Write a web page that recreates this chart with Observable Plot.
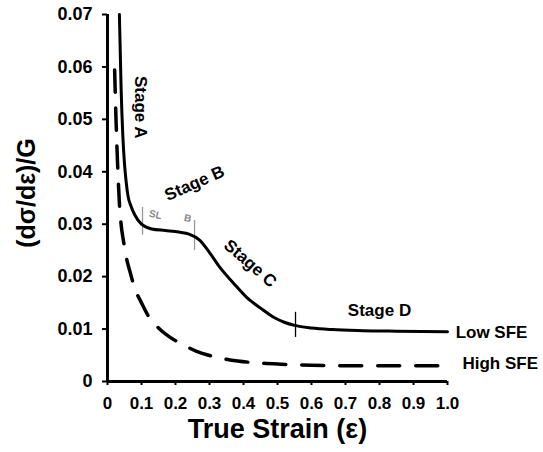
<!DOCTYPE html>
<html>
<head>
<meta charset="utf-8">
<script src="https://cdn.jsdelivr.net/npm/d3@7"></script>
<script src="https://cdn.jsdelivr.net/npm/@observablehq/plot@0.6"></script>
<style>
  html, body { margin: 0; padding: 0; background: #fff; }
  #chart svg { font-family: "Liberation Sans", Arial, sans-serif; background: #fff; }
  #chart svg text { font-weight: bold; }
</style>
</head>
<body>
<div id="chart"></div>
<script>
// Low SFE curve (solid)
const lowStrain = [0.035, 0.04, 0.045, 0.05, 0.055, 0.06, 0.07, 0.08, 0.1, 0.13, 0.17, 0.21, 0.24, 0.27, 0.3, 0.33, 0.37, 0.41, 0.45, 0.49, 0.52, 0.55, 0.6, 0.66, 0.75, 0.85, 1.0];
const lowValue  = [0.070, 0.056, 0.047, 0.0415, 0.038, 0.0355, 0.0333, 0.0318, 0.0300, 0.0291, 0.0288, 0.0285, 0.0281, 0.0270, 0.0246, 0.0218, 0.0188, 0.0160, 0.0140, 0.0122, 0.0113, 0.0107, 0.0102, 0.0099, 0.0097, 0.0096, 0.0095];
// High SFE curve (dashed)
const highStrain = [0.021, 0.025, 0.03, 0.035, 0.04, 0.047, 0.055, 0.068, 0.08, 0.1, 0.12, 0.15, 0.18, 0.22, 0.26, 0.31, 0.36, 0.43, 0.51, 0.6, 0.7, 0.8, 0.9, 1.0];
const highValue  = [0.0594, 0.050, 0.041, 0.034, 0.030, 0.0268, 0.0238, 0.0205, 0.0178, 0.0150, 0.0125, 0.0102, 0.0086, 0.0071, 0.0058, 0.0048, 0.0041, 0.0036, 0.0033, 0.0031, 0.0030, 0.0030, 0.0030, 0.0030];

const xTicks = [0, 0.1, 0.2, 0.3, 0.4, 0.5, 0.6, 0.7, 0.8, 0.9, 1.0];
const xTickLabels = ["0", "0.1", "0.2", "0.3", "0.4", "0.5", "0.6", "0.7", "0.8", "0.9", "1.0"];
const yTicks = [0, 0.01, 0.02, 0.03, 0.04, 0.05, 0.06, 0.07];
const yTickLabels = ["0", "0.01", "0.02", "0.03", "0.04", "0.05", "0.06", "0.07"];

const xTitle = "True Strain (ε)";
const yTitle = "(dσ/dε)/G";

// Stage labels (anchor in data units)
const stageNames = ["Stage A", "Stage B", "Stage C", "Stage D"];
const stageX = [0.097, 0.256, 0.42, 0.80];
const stageY = [0.0523, 0.0378, 0.0225, 0.01355];
const stageRotate = [90, -24, 41, 0];

// Curve names
const curveNames = ["Low SFE", "High SFE"];
const curveNameX = [1.024, 1.044];
const curveNameY = [0.0093, 0.0034];

// Small grey sub-stage markers
const subNames = ["SL", "B"];
const subX = [0.141, 0.236];
const subY = [0.0318, 0.0311];

// Stage boundary marks
const boundX  = [0.103, 0.256, 0.553];
const boundY1 = [0.0279, 0.0250, 0.0084];
const boundY2 = [0.0332, 0.0307, 0.0132];
const boundColor = ["#999", "#999", "#000"];

const low = lowStrain.map((x, i) => ({x, y: lowValue[i]}));
const high = highStrain.map((x, i) => ({x, y: highValue[i]}));
const stages = stageNames.map((t, i) => ({t, x: stageX[i], y: stageY[i], r: stageRotate[i]}));
const names = curveNames.map((t, i) => ({t, x: curveNameX[i], y: curveNameY[i]}));
const subs = subNames.map((t, i) => ({t, x: subX[i], y: subY[i]}));
const bounds = boundX.map((x, i) => ({x, y1: boundY1[i], y2: boundY2[i], c: boundColor[i]}));

const chart = Plot.plot({
  width: 543,
  height: 452,
  marginLeft: 107,
  marginRight: 96,
  marginTop: 14,
  marginBottom: 71,
  x: {type: "linear", domain: [0, 1], axis: null},
  y: {type: "linear", domain: [0, 0.07], axis: null},
  marks: [
    Plot.ruleX(bounds.filter(d => d.c !== "#000"), {x: "x", y1: "y1", y2: "y2", stroke: "#999", strokeWidth: 1.3}),
    Plot.ruleX(bounds.filter(d => d.c === "#000"), {x: "x", y1: "y1", y2: "y2", stroke: "#000", strokeWidth: 1.3}),
    Plot.line(low, {x: "x", y: "y", curve: "monotone-x", stroke: "#000", strokeWidth: 3}),
    Plot.line(high, {x: "x", y: "y", curve: "monotone-x", stroke: "#000", strokeWidth: 3.5, strokeDasharray: "22,16"}),
    Plot.ruleX([0], {y1: 0, y2: 0.07, stroke: "#000", strokeWidth: 3}),
    Plot.ruleY([0], {x1: 0, x2: 1, stroke: "#000", strokeWidth: 3}),
    Plot.axisY({ticks: yTicks, tickFormat: (d) => yTickLabels[yTicks.indexOf(d)], tickSize: 5, tickPadding: 10, fontSize: 18, fontWeight: "bold", label: null, strokeWidth: 2, fill: "#000"}),
    Plot.axisX({ticks: xTicks, tickFormat: (d) => xTickLabels[xTicks.indexOf(d)], tickSize: 4, tickPadding: 11, fontSize: 17, fontWeight: "bold", label: null, strokeWidth: 2, fill: "#000"}),
    Plot.text([xTitle], {frameAnchor: "bottom", dy: 56, fontSize: 27, fontWeight: "bold", fill: "#000"}),
    Plot.text([yTitle], {frameAnchor: "left", textAnchor: "middle", dx: -81, dy: -5, rotate: -90, fontSize: 25, fontWeight: "bold", fill: "#000"}),
    Plot.text(stages, {x: "x", y: "y", text: "t", rotate: "r", fontSize: 17, fontWeight: "bold", fill: "#000"}),
    Plot.text(names, {x: "x", y: "y", text: "t", textAnchor: "start", fontSize: 17, fontWeight: "bold", fill: "#000"}),
    Plot.text(subs, {x: "x", y: "y", text: "t", fontSize: 10, fill: "#888", rotate: 12})
  ]
});
document.getElementById("chart").appendChild(chart);
</script>
</body>
</html>
